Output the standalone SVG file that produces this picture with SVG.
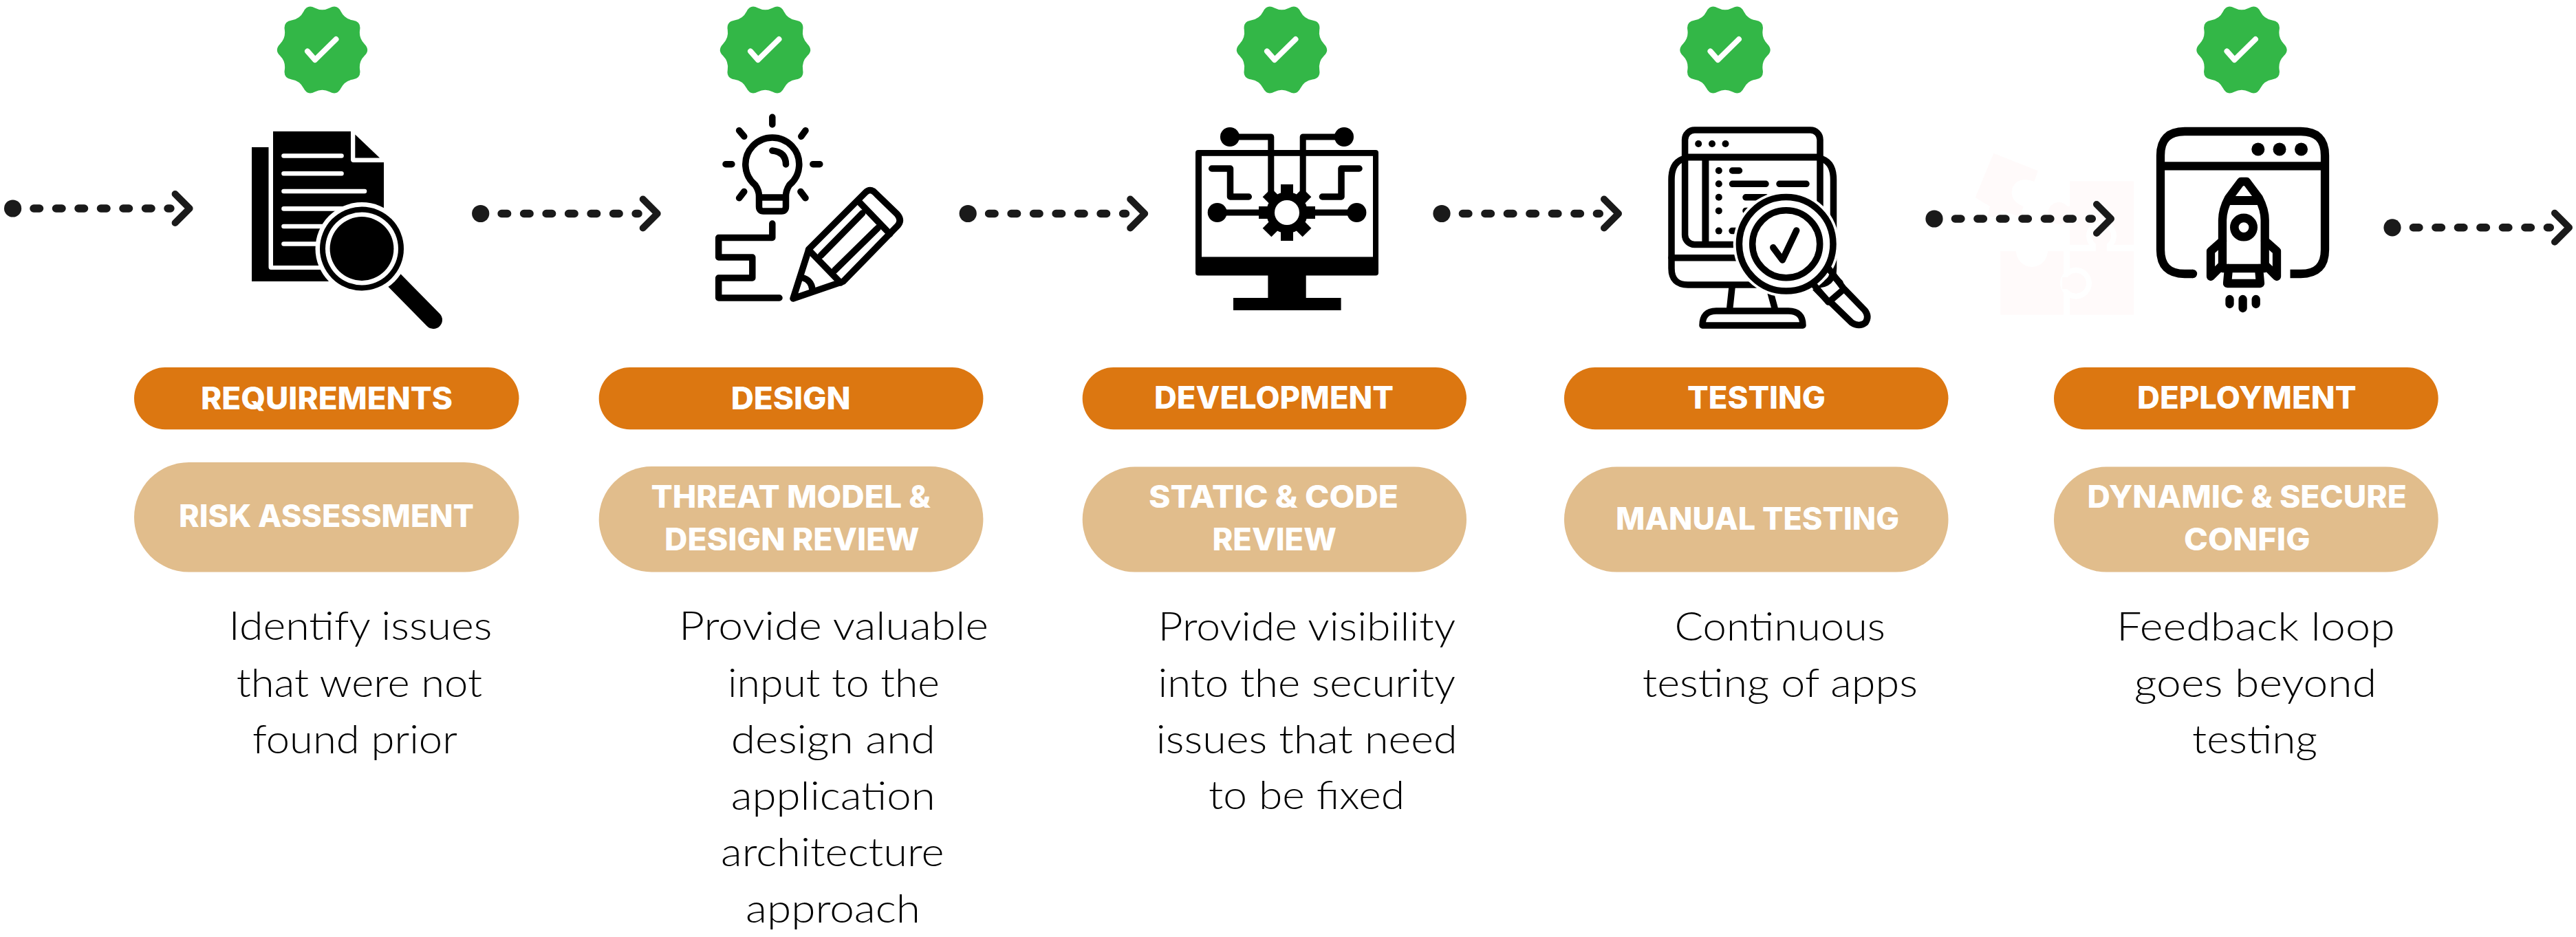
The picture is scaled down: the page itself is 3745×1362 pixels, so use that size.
<svg xmlns="http://www.w3.org/2000/svg" xmlns:xlink="http://www.w3.org/1999/xlink" width="3745" height="1362" viewBox="0 0 3745 1362">
<style>
.pill1{fill:#dc7711}
.pill2{fill:#e1bd8c}
.lab{font-family:"Inter","Liberation Sans",sans-serif;font-weight:800;font-size:45px;fill:#fff}
.desc{font-family:"Lato","Liberation Sans",sans-serif;font-weight:300;font-size:58px;fill:#000}
.ln{fill:none;stroke:#000;stroke-width:9.5;stroke-linecap:round;stroke-linejoin:round}
.ln12{fill:none;stroke:#000;stroke-width:12.3;stroke-linecap:round;stroke-linejoin:round}
.wh{fill:none;stroke:#fff;stroke-width:6.6;stroke-linecap:round}
.faint{fill:#fffafa}
</style>
<defs>
<g id="badge">
<path fill="#33b747" d="M-10.8,-61.05 Q0,-55.5 10.8,-61.05 Q21.6,-66.6 27.1,-55.75 Q32.6,-44.9 44.6,-43 Q56.6,-41.1 54.7,-29.15 Q52.8,-17.2 61.4,-8.6 Q70,0 61.4,8.6 Q52.8,17.2 54.7,29.15 Q56.6,41.1 44.6,43 Q32.6,44.9 27.1,55.75 Q21.6,66.6 10.8,61.05 Q0,55.5 -10.8,61.05 Q-21.6,66.6 -27.1,55.75 Q-32.6,44.9 -44.6,43 Q-56.6,41.1 -54.7,29.15 Q-52.8,17.2 -61.4,8.6 Q-70,0 -61.4,-8.6 Q-52.8,-17.2 -54.7,-29.15 Q-56.6,-41.1 -44.6,-43 Q-32.6,-44.9 -27.1,-55.75 Q-21.6,-66.6 -10.8,-61.05Z"/>
<path d="M-21.5,2 L-10.5,14.5 L20,-15.5" fill="none" stroke="#fff" stroke-width="8" stroke-linecap="round" stroke-linejoin="round"/>
</g>
<g id="arrow">
<circle cx="0" cy="0" r="12.6" fill="#1a1a1a"/>
<line x1="30.4" y1="0" x2="229.3" y2="0" fill="none" stroke="#1a1a1a" stroke-width="11.5" stroke-linecap="round" stroke-dasharray="8.5 24"/>
<path d="M236,-21 L257,0 L236,21" fill="none" stroke="#1a1a1a" stroke-width="10" stroke-linecap="round" stroke-linejoin="round"/>
</g>
</defs>
<rect width="3745" height="1362" fill="#fff"/>

<g id="puzzle-watermark">
<path class="faint" d="M2898.3,222.7 L2962.7,248.3 L2957.3,264 Q2935,255 2926,272 Q2920,292 2941.7,300 L2937,315 L2909,306 L2907,315 L2889,315 L2893,300 L2871.7,287.3Z"/>
<rect class="faint" x="3009" y="263.3" width="93.3" height="92.4"/>
<circle class="faint" cx="2993.3" cy="310" r="16"/>
<rect class="faint" x="2990" y="300" width="25" height="24"/>
<circle cx="3055" cy="343" r="22" fill="#fff"/>
<rect x="3040" y="355.7" width="30" height="10" fill="#fff"/>
<rect class="faint" x="2908.3" y="365" width="91.7" height="92.7"/>
<circle cx="2954" cy="365" r="23" fill="#fff"/>
<rect class="faint" x="3009" y="365" width="93.3" height="92.7"/>
<circle class="faint" cx="3055" cy="343" r="14"/>
<rect class="faint" x="3047" y="350" width="16" height="18"/>
<circle cx="3018" cy="411.7" r="23" fill="#fff"/>
<rect x="3000" y="365" width="9" height="92.7" fill="#fff"/>
<circle class="faint" cx="3018" cy="411.7" r="15"/>
<rect class="faint" x="2998" y="403" width="20" height="17"/>
</g>

<g id="connectors">
<use href="#arrow" x="18.6" y="303"/>
<use href="#arrow" x="698.7" y="310.5"/>
<use href="#arrow" x="1407.2" y="310.5"/>
<use href="#arrow" x="2096" y="310.5"/>
<use href="#arrow" x="2812" y="318"/>
<use href="#arrow" x="3478" y="330.8"/>
</g>

<g id="node-requirements">
<use href="#badge" x="468.5" y="72.5"/>
<g id="icon-document">
<path d="M366,214 H390.5 V388 Q390.5,392 394,392 H500 V409 H366Z" fill="#000"/>
<path d="M397,191 H510 V232 Q510,236 514,236 H558 V386 H397Z" fill="#000"/>
<path d="M516.3,195.6 L552,229.5 H516.3Z" fill="#000"/>
<path class="wh" d="M412.5,226.5 H496.5 M412.5,252.3 H496.5 M412.5,278 H530 M412.5,303.4 H520 M412.5,329 H520 M412.5,354.5 H520"/>
<line x1="568" y1="402" x2="630" y2="465" stroke="#000" stroke-width="26" stroke-linecap="round"/>
<circle cx="526" cy="361.5" r="67.5" fill="#fff"/>
<circle cx="526" cy="361.5" r="61" fill="#000"/>
<circle cx="526" cy="361.5" r="53" fill="#fff"/>
<circle cx="526" cy="361.5" r="46.4" fill="#000"/>
</g>
<rect class="pill1" x="195" y="534" width="559.5" height="90.3" rx="45"/>
<text class="lab" x="292" y="594.6" textLength="366" lengthAdjust="spacingAndGlyphs">REQUIREMENTS</text>
<rect class="pill2" x="195" y="672" width="559.5" height="159.5" rx="79.7"/>
<text class="lab" x="260" y="766" textLength="429" lengthAdjust="spacingAndGlyphs">RISK ASSESSMENT</text>
<text class="desc" x="332.5" y="930" textLength="383" lengthAdjust="spacingAndGlyphs">Identify issues</text>
<text class="desc" x="343.7" y="1012.6" textLength="357.3" lengthAdjust="spacingAndGlyphs">that were not</text>
<text class="desc" x="367" y="1095" textLength="298" lengthAdjust="spacingAndGlyphs">found prior</text>
</g>

<g id="node-design">
<use href="#badge" x="1112.5" y="72.5"/>
<g id="icon-idea">
<path class="ln" d="M1103.5,300 V285 Q1103.5,277 1098,269 A39,39 0 1 1 1147.6,269 Q1142.5,277 1142.5,285 V300 Q1142.5,307 1136,307 H1110 Q1103.5,307 1103.5,300Z M1103.5,287 H1142.5"/>
<path class="ln" d="M1122.8,219 Q1142.5,221 1142.5,239"/>
<path class="ln" d="M1122.8,170.3 V181 M1074.6,189.7 L1081.8,198.3 M1171,189.7 L1164.8,198.3 M1055,238.7 H1063.9 M1181.8,238.7 H1191.8 M1081.8,278.5 L1074.6,287.8 M1163.9,278.5 L1171,287.8"/>
<path class="ln" d="M1122.8,325 V345.5 H1044.7 V374 H1093.8 V404 H1044.7 V433 H1133"/>
<path class="ln" d="M1153,434 L1176,362 L1258,280 Q1265,273 1272,280 L1304,311 Q1312,320 1305,328 L1226,409Z"/>
<path class="ln" d="M1249,293.5 L1293.8,340 M1175.5,363 L1222,411 M1193.4,371.4 L1253.6,310 M1213.5,393 L1276,331.6 M1165,403 Q1180,407 1181,421"/>
</g>
<rect class="pill1" x="870.7" y="534" width="558.7" height="90.3" rx="45"/>
<text class="lab" x="1062.7" y="594.6" textLength="174" lengthAdjust="spacingAndGlyphs">DESIGN</text>
<rect class="pill2" x="870.7" y="678" width="558.7" height="153.5" rx="76.7"/>
<text class="lab" x="946.4" y="738" textLength="406.4" lengthAdjust="spacingAndGlyphs">THREAT MODEL &amp;</text>
<text class="lab" x="966" y="799.8" textLength="370.5" lengthAdjust="spacingAndGlyphs">DESIGN REVIEW</text>
<text class="desc" x="987" y="930" textLength="450" lengthAdjust="spacingAndGlyphs">Provide valuable</text>
<text class="desc" x="1058" y="1012.6" textLength="308" lengthAdjust="spacingAndGlyphs">input to the</text>
<text class="desc" x="1062.7" y="1095" textLength="297" lengthAdjust="spacingAndGlyphs">design and</text>
<text class="desc" x="1062.7" y="1176.5" textLength="297" lengthAdjust="spacingAndGlyphs">application</text>
<text class="desc" x="1048" y="1259" textLength="324.6" lengthAdjust="spacingAndGlyphs">architecture</text>
<text class="desc" x="1084" y="1341" textLength="254" lengthAdjust="spacingAndGlyphs">approach</text>
</g>

<g id="node-development">
<use href="#badge" x="1863.5" y="72.5"/>
<g id="icon-monitor">
<rect x="1738" y="218" width="266" height="182.6" rx="4" fill="#000"/>
<rect x="1747" y="226.8" width="249" height="146.6" fill="#fff"/>
<rect x="1843.4" y="400" width="55.3" height="34" fill="#000"/>
<rect x="1793" y="433" width="156.6" height="18" fill="#000"/>
<path class="ln" style="stroke-linecap:butt;stroke-width:9" d="M1790,199 H1847.8 V280 M1952,199 H1894.2 V280 M1770,309 H1972"/>
<circle cx="1788" cy="199" r="14" fill="#000"/>
<circle cx="1954" cy="199" r="14" fill="#000"/>
<circle cx="1769.7" cy="309" r="14" fill="#000"/>
<circle cx="1972.4" cy="309" r="14" fill="#000"/>
<path class="ln" d="M1761.7,245 H1788.5 V286 H1815.3 M1976,245 H1950 V286 H1922.4"/>
<g transform="translate(1871,309)" fill="#000">
<circle r="30"/>
<rect x="-9" y="-41" width="18" height="16"/>
<rect x="-9" y="-41" width="18" height="16" transform="rotate(45)"/>
<rect x="-9" y="-41" width="18" height="16" transform="rotate(90)"/>
<rect x="-9" y="-41" width="18" height="16" transform="rotate(135)"/>
<rect x="-9" y="-41" width="18" height="16" transform="rotate(180)"/>
<rect x="-9" y="-41" width="18" height="16" transform="rotate(225)"/>
<rect x="-9" y="-41" width="18" height="16" transform="rotate(270)"/>
<rect x="-9" y="-41" width="18" height="16" transform="rotate(315)"/>
<circle r="18" fill="#fff"/>
</g>
</g>
<rect class="pill1" x="1573.7" y="534" width="558.3" height="90.3" rx="45"/>
<text class="lab" x="1678" y="594" textLength="348" lengthAdjust="spacingAndGlyphs">DEVELOPMENT</text>
<rect class="pill2" x="1573.7" y="678.6" width="558.3" height="153" rx="76.5"/>
<text class="lab" x="1670" y="737.5" textLength="363" lengthAdjust="spacingAndGlyphs">STATIC &amp; CODE</text>
<text class="lab" x="1762.4" y="799.5" textLength="180.6" lengthAdjust="spacingAndGlyphs">REVIEW</text>
<text class="desc" x="1683.5" y="930.5" textLength="432.5" lengthAdjust="spacingAndGlyphs">Provide visibility</text>
<text class="desc" x="1683.5" y="1012.5" textLength="432.5" lengthAdjust="spacingAndGlyphs">into the security</text>
<text class="desc" x="1680.8" y="1095" textLength="437.8" lengthAdjust="spacingAndGlyphs">issues that need</text>
<text class="desc" x="1757" y="1176.4" textLength="285" lengthAdjust="spacingAndGlyphs">to be fixed</text>
</g>

<g id="node-testing">
<use href="#badge" x="2508" y="72.5"/>
<g id="icon-code-review">
<path class="ln" d="M2449.6,230 Q2430,235 2430,261 V390 Q2430,414 2454,414 H2640 Q2665.5,414 2665.5,390 V261 Q2665.5,235 2646,230"/>
<path class="ln" d="M2430,374.7 H2640"/>
<path class="ln" d="M2518,418 L2514.8,447.6 M2572,418 L2580,447.6"/>
<path class="ln" d="M2475,473 Q2475,452 2495,452 H2600 Q2621,452 2621,473Z"/>
<rect x="2449.6" y="189" width="196.4" height="166.5" rx="14" fill="#fff" stroke="#000" stroke-width="9.5"/>
<path class="ln" style="stroke-width:10" d="M2449.6,228.5 H2646 M2479.4,228.5 V355"/>
<g fill="#000">
<circle cx="2469.2" cy="209" r="5"/><circle cx="2489" cy="209" r="5"/><circle cx="2508.5" cy="209" r="5"/>
<circle cx="2498.8" cy="248" r="5"/><circle cx="2498.8" cy="267.3" r="5"/><circle cx="2498.8" cy="286.8" r="5"/><circle cx="2498.8" cy="306.4" r="5"/><circle cx="2498.8" cy="335.6" r="5"/>
</g>
<path class="ln" d="M2518.5,248 H2528.5 M2518.5,267.3 H2567 M2587,267.3 H2626 M2538,286.8 H2567 M2538,306.4 H2555 M2518,335.6 H2532"/>
<path class="ln" d="M2659,394.6 L2675,411 M2637.4,417 L2654.4,434.4"/>
<circle cx="2596.7" cy="354.8" r="77" fill="#fff"/>
<circle cx="2596.7" cy="354.8" r="68.3" fill="#fff" stroke="#000" stroke-width="9.5"/>
<circle cx="2596.7" cy="354.8" r="49" fill="#fff" stroke="#000" stroke-width="9.5"/>
<path class="ln" d="M2577.8,359.8 L2591.3,378 L2611.7,335"/>
<path class="ln" d="M2659,391 L2680,419 M2637,414 L2658,439 M2681,420 L2711,451 Q2718,460 2712,469 Q2703,476 2692,469 L2660,438Z"/>
</g>
<rect class="pill1" x="2274" y="534" width="558.5" height="90.3" rx="45"/>
<text class="lab" x="2453" y="594" textLength="201" lengthAdjust="spacingAndGlyphs">TESTING</text>
<rect class="pill2" x="2274" y="678.6" width="558.5" height="153" rx="76.5"/>
<text class="lab" x="2349" y="769.6" textLength="412" lengthAdjust="spacingAndGlyphs">MANUAL TESTING</text>
<text class="desc" x="2434.6" y="930.5" textLength="306.4" lengthAdjust="spacingAndGlyphs">Continuous</text>
<text class="desc" x="2387.8" y="1012.5" textLength="400.2" lengthAdjust="spacingAndGlyphs">testing of apps</text>
</g>

<g id="node-deployment">
<use href="#badge" x="3259" y="72.5"/>
<g id="icon-rocket">
<path class="ln12" style="stroke-linecap:butt" d="M3188,398 H3176 Q3141,398 3141,363 V226 Q3141,191 3176,191 H3345 Q3380,191 3380,226 V363 Q3380,398 3345,398 H3329.5"/>
<circle cx="3188" cy="398" r="6.2" fill="#000"/>
<path class="ln12" style="stroke-linecap:butt" d="M3141,241.4 H3380"/>
<circle cx="3282.8" cy="217" r="9.5" fill="#000"/><circle cx="3314" cy="217" r="9.5" fill="#000"/><circle cx="3345.5" cy="217" r="9.5" fill="#000"/>
<path class="ln12" d="M3231,390 V320 Q3231,305 3240,288 L3258,264 H3266 L3284,288 Q3292.7,305 3292.7,320 V390Z"/>
<path class="ln12" style="stroke-width:13" d="M3240,291.5 H3284"/>
<circle cx="3262" cy="330.6" r="13.7" fill="none" stroke="#000" stroke-width="12.6"/>
<path class="ln12" d="M3231,350 L3214,365 V402 L3231,385 M3293,350 L3310,365 V402 L3293,385"/>
<path class="ln12" d="M3240,390 L3238,412 H3286 L3284,390"/>
<path class="ln12" d="M3241.5,435 V442 M3260.6,435 V448 M3279.7,435 V442"/>
</g>
<rect class="pill1" x="2986" y="534" width="558.7" height="90.3" rx="45"/>
<text class="lab" x="3107" y="594" textLength="318.5" lengthAdjust="spacingAndGlyphs">DEPLOYMENT</text>
<rect class="pill2" x="2986" y="678.6" width="558.7" height="153" rx="76.5"/>
<text class="lab" x="3034.5" y="737.5" textLength="464.5" lengthAdjust="spacingAndGlyphs">DYNAMIC &amp; SECURE</text>
<text class="lab" x="3175" y="799.5" textLength="183.5" lengthAdjust="spacingAndGlyphs">CONFIG</text>
<text class="desc" x="3077" y="930.5" textLength="404.7" lengthAdjust="spacingAndGlyphs">Feedback loop</text>
<text class="desc" x="3102.8" y="1012.5" textLength="352.2" lengthAdjust="spacingAndGlyphs">goes beyond</text>
<text class="desc" x="3187" y="1095" textLength="182" lengthAdjust="spacingAndGlyphs">testing</text>
</g>
</svg>
